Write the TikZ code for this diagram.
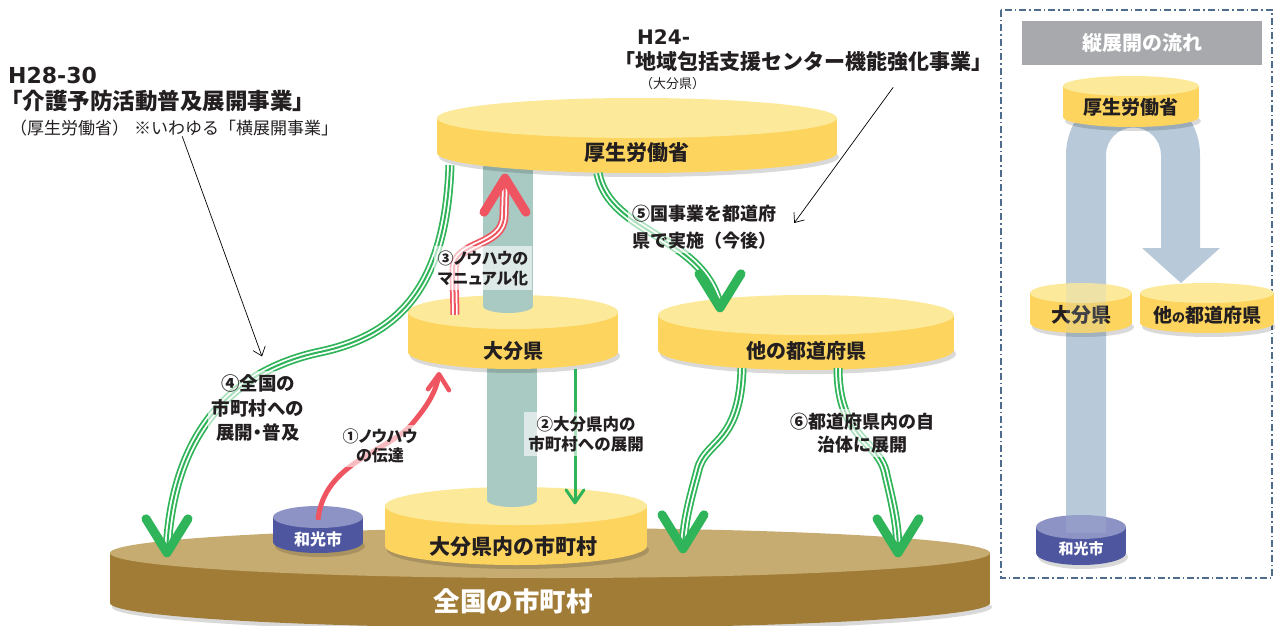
\documentclass[tikz,border=0pt]{standalone}
\usepackage{fontspec}
\setmainfont{Noto Sans CJK JP}
\newfontfamily\jpp{Noto Sans CJK JP}[RawFeature=+palt]
\newfontfamily\lat{DejaVu Sans}
\usepackage{xcolor}
\usepackage{tikz}
\usetikzlibrary{arrows.meta}

\definecolor{txtdark}{HTML}{231F20}
\definecolor{yeltop}{HTML}{FCE99A}
\definecolor{yelside}{HTML}{FDD45E}
\definecolor{blutop}{HTML}{8D93C4}
\definecolor{bluside}{HTML}{4D569E}
\definecolor{brntop}{HTML}{C6AC70}
\definecolor{brnside}{HTML}{A17C37}
\definecolor{pillar}{HTML}{A9C9C3}
\definecolor{grn}{HTML}{2FB45A}
\definecolor{rd}{HTML}{EE5561}
\definecolor{band}{HTML}{B8CAD9}
\definecolor{frameblue}{HTML}{506C8C}
\definecolor{capgray}{HTML}{A7A9AC}

\newcommand{\fsz}[2]{\fontsize{#1}{#2}\selectfont}
% drum: name, x, y of top face, x radius, y radius, height, colour set, text position, text
\newcommand{\drum}[9]{%
    \fill[black, opacity=.15] (#2+2,#3+#6+4) ellipse[x radius=#4, y radius=#5];
    \fill[#7side] (#2,#3+#6) ellipse[x radius=#4, y radius=#5];
    \fill[#7side] (#2-#4,#3) rectangle (#2+#4,#3+#6);
    \fill[#7top] (#2,#3) ellipse[x radius=#4, y radius=#5];
    \node[inner sep=0pt, minimum width=2*#4, minimum height=#6+2*#5] (#1) at (#2,#3+#6/2) {};
    \node[#7txt] (#1-txt) at (#8) {#9};
}

\begin{document}
\begin{tikzpicture}[x=1pt, y=-1pt]
    \tikzstyle{yeltxt} = [text=txtdark, font=\bfseries]
    \tikzstyle{blutxt} = [text=white, font=\bfseries]
    \tikzstyle{brntxt} = [text=white, font=\bfseries]
    \tikzstyle{lbl} = [fill=white, fill opacity=.6, text opacity=1, text=txtdark, align=center, inner sep=4pt]
    \tikzstyle{tripgrn} = [draw=grn, line width=9pt, postaction={draw=white, line width=5.5pt}, postaction={draw=grn, line width=2pt}]
    \tikzstyle{tripred} = [draw=rd, line width=9pt, postaction={draw=white, line width=5.5pt}, postaction={draw=rd, line width=2pt}]
    \tikzstyle{chev} = [line width=9pt, line cap=round, line join=round]
    \tikzstyle{pointer} = [draw=black, line width=.7pt, -{Straight Barb[length=8pt, width=13pt]}]
    \tikzstyle{ttl} = [anchor=west, inner sep=0pt, text=txtdark]

    \useasboundingbox (0,0) rectangle (1275,626);
    \clip (0,0) rectangle (1275,626);

    % tiers, back to front
    \drum{nation}{550}{553}{440}{25}{50}{brn}{513,601}{\fsz{26.5}{30}全国の市町村}
    \drum{wako}{318}{517}{45}{11}{25}{blu}{318,539}{\fsz{16}{19}和光市}
    \drum{oitamun}{516}{506}{131}{19}{40}{yel}{513,547}{\fsz{21}{25}大分県内の市町村}
    \fill[pillar] (487,352) rectangle (537,500);
    \fill[pillar] (512,500) ellipse[x radius=25, y radius=7];
    \drum{oita}{513}{312}{105}{17}{40}{yel}{513,351}{\fsz{20}{24}大分県}
    \fill[pillar] (483,150) rectangle (533,306);
    \fill[pillar] (508,306) ellipse[x radius=25, y radius=7];
    \drum{others}{806}{315}{148}{20}{35}{yel}{806,351}{\fsz{20}{24}他の都道府県}
    \drum{mhlw}{637}{118}{200}{20}{35}{yel}{637,153}{\fsz{21}{25}厚生労働省}

    % arrow tips
    \coordinate (t1) at ([xshift=-74, yshift=-5]oita.south);
    \coordinate (t2) at ([xshift=59, yshift=-16]oitamun.north);
    \coordinate (t3) at ([xshift=-132, yshift=-5]mhlw.south);
    \coordinate (t4) at ([xshift=-383, yshift=-25]nation.north);
    \coordinate (t5) at ([xshift=-86, yshift=-13]others.north);
    \coordinate (t6a) at ([xshift=133, yshift=-21]nation.north);
    \coordinate (t6b) at ([xshift=348, yshift=-25]nation.north);

    \draw[rd, line width=5pt] ([yshift=-14]wako.north) .. controls (324,462) and (388,452) .. (412,424) .. controls (428,405) and (436,392) .. (t1);
    \draw[grn, line width=3pt] ([xshift=62]oita.south) -- (t2);
    \path[tripred] ([xshift=-58, yshift=-20]oita.north) -- (454,270) .. controls (454,240) and (504,248) .. (504,215) -- (t3);
    \path[tripgrn] ([xshift=-187, yshift=8]mhlw.south) .. controls (446,285) and (400,335) .. (320,352) .. controls (235,370) and (172,430) .. (t4);
    \path[tripgrn] ([xshift=-39]mhlw.south) .. controls (610,235) and (705,235) .. (t5);
    \path[tripgrn] ([xshift=-64, yshift=2]others.south) .. controls (740,445) and (705,440) .. (698,470) .. controls (690,500) and (684,520) .. (t6a);
    \path[tripgrn] ([xshift=32, yshift=2]others.south) .. controls (838,440) and (880,440) .. (886,475) .. controls (893,505) and (898,525) .. (t6b);

    \foreach \tip in {t4,t5,t6a,t6b}
        \draw[chev, grn] (\tip) ++(-21,-34) -- (\tip) -- ++(21,-34);
    \draw[chev, rd] (t3) ++(-21,34) -- (t3) -- ++(21,34);
    \draw[rd, line width=4.5pt, line cap=round, line join=round] (t1) ++(-11,15) -- (t1) -- ++(10,16);
    \draw[grn, line width=3pt, line cap=round, line join=round] (t2) ++(-9,-13) -- (t2) -- ++(9,-13);

    % step labels
    \node[lbl, font=\jpp\bfseries\fsz{16}{20}] (lab3) at (483,268) {③ノウハウの\\マニュアル化};
    \node[lbl, font=\bfseries\fsz{18}{27}, align=left] (lab5) at (704,227) {⑤国事業を都道府\\県で実施（今後）};
    \node[lbl, font=\bfseries\fsz{16.5}{20}] (lab2) at (586,434) {②大分県内の\\市町村への展開};
    \node[lbl, font=\bfseries\fsz{18}{23}] (lab6) at (862,433) {⑥都道府県内の自\\治体に展開};
    \node[lbl, font=\bfseries\fsz{18.5}{24.5}] (lab4) at (258,408) {④全国の\\市町村への\\展開{\jpp ・}普及};
    \node[lbl, font=\jpp\bfseries\fsz{16}{19}] (lab1) at (380,446) {①ノウハウ\\の伝達};

    % project titles
    \node[ttl, font=\lat\bfseries\fsz{22}{26}] (ttl1) at (8,75) {H28-30};
    \node[ttl, font=\bfseries\fsz{22.5}{26}] (ttl1b) at (0,101) {「介護予防活動普及展開事業」};
    \node[ttl, font=\fsz{17}{20}] (note1) at (10,128) {（厚生労働省）\hspace{5pt}※いわゆる「横展開事業」};
    \node[ttl, font=\lat\bfseries\fsz{20}{25}] (ttl2) at (637,37) {H24-};
    \node[ttl, font=\bfseries\fsz{21}{25}] (ttl2b) at (614,61) {「地域包括支援センター機能強化事業」};
    \node[ttl, font=\fsz{13}{16}] (note2) at (640,84) {（大分県）};

    \draw[pointer] ([xshift=8]note1.south) -- ([xshift=4, yshift=14]lab4.north);
    \draw[pointer] ([xshift=90, yshift=-16]ttl2b.south) -- ([xshift=14, yshift=4]lab5.east);

    % vertical flow panel
    \draw[frameblue, line width=1.5pt, dash pattern=on 7pt off 3pt on 1.5pt off 3pt] (1001,10) rectangle (1272,578);
    \node[fill=capgray, text=white, font=\bfseries\fsz{20}{24}, minimum width=240, minimum height=44, inner sep=0pt] (cap) at (1142,43) {縦展開の流れ};
    \fill[band] (1066,533) -- (1066,155) arc[start angle=180, end angle=360, radius=67] -- (1200,248) -- (1220,248) -- (1181,283) -- (1142,248) -- (1161,248) -- (1161,155) arc[start angle=0, end angle=-180, radius=27.5] -- (1106,533) -- cycle;
    \drum{vmhlw}{1131}{86}{68}{10}{31}{yel}{1131,107}{\fsz{19}{23}厚生労働省}
    \drum{voita}{1081}{293}{51}{10}{30}{yel}{1081,315}{\fsz{20}{23}大分県}
    \drum{vothers}{1207}{293}{67}{10}{30}{yel}{1207,315}{\fsz{19}{23}他{\fsz{13}{15}の}都道府県}
    \drum{vwako}{1081}{527}{45}{12}{26}{blu}{1081,549}{\fsz{15}{18}和光市}
    \fill[band, opacity=.2] (1066,283) rectangle (1106,533);
\end{tikzpicture}
\end{document}
